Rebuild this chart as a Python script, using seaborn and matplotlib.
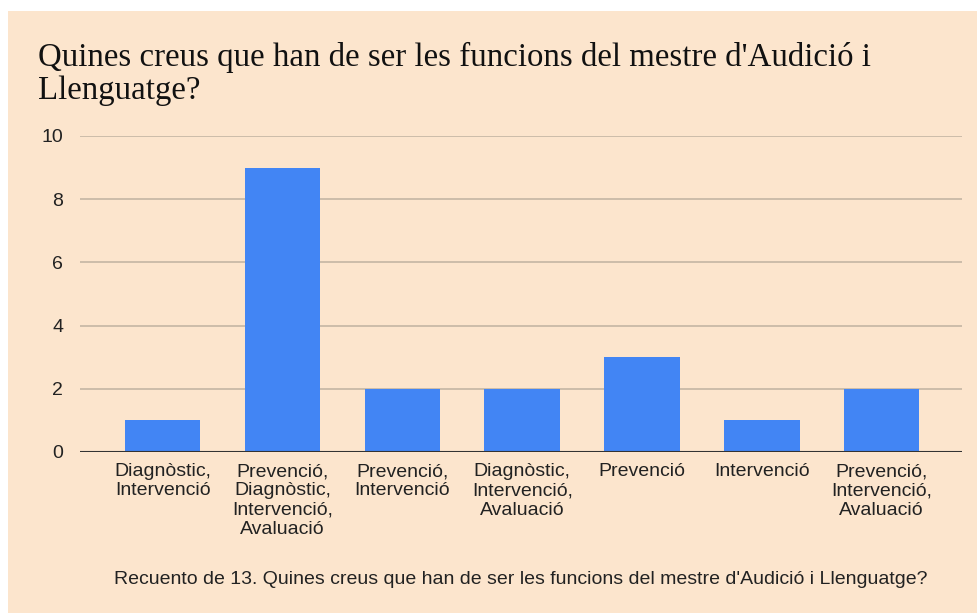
import matplotlib
matplotlib.use("Agg")
import matplotlib.pyplot as plt
import seaborn as sns
import pandas as pd
from matplotlib.patches import Rectangle

categories = ["Diagnòstic,\nIntervenció", "Prevenció,\nDiagnòstic,\nIntervenció,\nAvaluació",
              "Prevenció,\nIntervenció", "Diagnòstic,\nIntervenció,\nAvaluació",
              "Prevenció", "Intervenció", "Prevenció,\nIntervenció,\nAvaluació"]
values = [1, 9, 2, 2, 3, 1, 2]
yticks = [0, 2, 4, 6, 8, 10]
title = "Quines creus que han de ser les funcions del mestre d'Audició i\nLlenguatge?"
xlabel = "Recuento de 13. Quines creus que han de ser les funcions del mestre d'Audició i Llenguatge?"

sns.set_theme(style="white")
plt.rcParams['font.family'] = ['Liberation Sans', 'DejaVu Sans']

W, H = 977, 613
fig = plt.figure(figsize=(W/100, H/100), dpi=100)
fig.patch.set_facecolor("white")
bg = "#FCE5CD"
fig.patches.append(Rectangle((8/W, 0), 1 - 8/W, 1 - 11/H, transform=fig.transFigure,
                             facecolor=bg, edgecolor="none", zorder=-10))

ax = fig.add_axes([80/W, 1 - 452/H, (962-80)/W, (452-136)/H])
ax.set_facecolor(bg)
df = pd.DataFrame({"cat": categories, "val": values})
sns.barplot(data=df, x="cat", y="val", color="#4285F4", saturation=1, width=0.63, ax=ax,
            zorder=3, linewidth=0, edgecolor="none")
ax.set_xlim(-0.69, 6.67)
ax.set_ylim(0, 10)
ax.set_yticks(yticks)
ax.set_yticklabels([str(t) for t in yticks], fontsize=14, color="#222222")
for t in yticks[1:]:
    ax.axhline(t, color="#C9B9A7", lw=1.3, zorder=1)
ax.axhline(0, color="#333333", lw=1.5, zorder=4)
for s in ax.spines.values():
    s.set_visible(False)
ax.tick_params(axis="y", length=0, pad=12)
ax.tick_params(axis="x", length=0, pad=8)
for lab in ax.get_xticklabels():
    lab.set_fontsize(14)
    lab.set_color("#222222")
    lab.set_linespacing(1.18)
    lab.set_verticalalignment("top")
ax.set_xlabel(xlabel, fontsize=14, color="#222222", labelpad=24)
ax.set_ylabel("")

fig.text(38/W, 1 - 42/H, title, fontsize=23.7, family=['Liberation Serif'], color="#111111",
         va="top", ha="left", linespacing=1.1)

fig.savefig("out.png", dpi=100, facecolor=fig.get_facecolor())
